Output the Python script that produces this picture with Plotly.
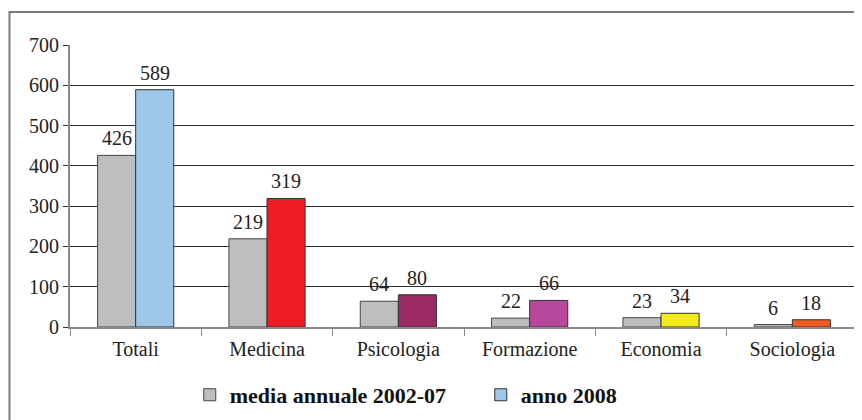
import plotly.graph_objects as go

categories = ["Totali", "Medicina", "Psicologia", "Formazione", "Economia", "Sociologia"]
media_2002_07 = [426, 219, 64, 22, 23, 6]
anno_2008 = [589, 319, 80, 66, 34, 18]
series_names = ["media annuale 2002-07", "anno 2008"]
y_ticks = [0, 100, 200, 300, 400, 500, 600, 700]
grid_ticks = [100, 200, 300, 400, 500, 600]

grey = "#BEBEBE"
colors_2008 = ["#9DC8EA", "#EE1C25", "#9B2A62", "#B6489C", "#F3EA17", "#F15A22"]
serif = "Liberation Serif"

# layout geometry (the page body adds an 8px offset)
W, H = 854, 412
ML, MR, MT, MB = 62, 4, 37, 93
BARGAP = 0.42
plot_w = W - ML - MR
bar_px = plot_w / len(categories) * (1 - BARGAP) / 2

fig = go.Figure()
fig.add_trace(go.Bar(
    x=categories, y=media_2002_07, name=series_names[0],
    marker=dict(color=grey, line=dict(color="#444444", width=1)),
))
fig.add_trace(go.Bar(
    x=categories, y=anno_2008, name=series_names[1],
    marker=dict(color=colors_2008, line=dict(color="#333333", width=1)),
))
# invisible trace to activate the overlay axis carrying the grid lines
fig.add_trace(go.Scatter(x=[categories[0]], y=[0], yaxis="y2", mode="markers",
                         marker=dict(opacity=0), showlegend=False, hoverinfo="skip"))

annotations = []
for i, series in enumerate([media_2002_07, anno_2008]):
    for cat, v in zip(categories, series):
        annotations.append(dict(
            x=cat, y=v, xref="x", yref="y", text=str(v), showarrow=False,
            xanchor="center", yanchor="bottom",
            xshift=(i - 0.5) * bar_px, yshift=4,
            font=dict(family=serif, size=20, color="#222222"),
        ))

fig.update_layout(
    width=W, height=H,
    margin=dict(l=ML, r=MR, t=MT, b=MB),
    paper_bgcolor="white", plot_bgcolor="rgba(0,0,0,0)",
    barmode="group", bargap=BARGAP, bargroupgap=0,
    font=dict(family=serif, size=20, color="#222222"),
    showlegend=True,
    legend=dict(orientation="h", x=0.152, xanchor="left", y=-0.241, yanchor="middle",
                font=dict(family=serif, size=22, color="#111111", weight="bold"),
                entrywidth=246, entrywidthmode="pixels", itemwidth=30,
                bgcolor="rgba(0,0,0,0)"),
    xaxis=dict(showline=True, linecolor="#8A8A8A", linewidth=2,
               ticks="outside", tickson="boundaries", ticklen=7, tickcolor="#8A8A8A",
               ticklabelstandoff=3,
               tickfont=dict(family=serif, size=20, color="#222222"), showgrid=False),
    yaxis=dict(range=[0, 700], tickvals=y_ticks, showgrid=False, zeroline=False,
               showline=True, linecolor="#8A8A8A", linewidth=2,
               ticks="outside", ticklen=5, tickcolor="#333333",
               tickfont=dict(family=serif, size=20, color="#222222")),
    yaxis2=dict(range=[0, 700], overlaying="y", tickvals=grid_ticks, showgrid=True,
                gridcolor="#2A2A2A", gridwidth=1, showticklabels=False, ticks="",
                zeroline=False, showline=False),
    annotations=annotations,
    shapes=[dict(type="rect", xref="paper", yref="paper",
                 x0=-0.0768, x1=1.02, y0=-0.37, y1=1.117,
                 line=dict(color="#7A7A7A", width=2), layer="below")],
)

fig.write_html("out.html")
